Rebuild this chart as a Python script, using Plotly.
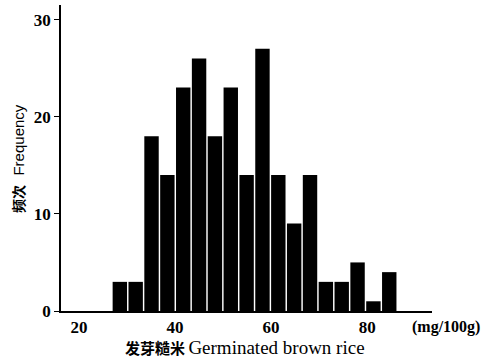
import plotly.graph_objects as go

bin_centers = [28.5, 31.8, 35.1, 38.4, 41.7, 45.0, 48.3, 51.6, 54.9, 58.2,
               61.5, 64.8, 68.1, 71.4, 74.7, 78.0, 81.3, 84.6]
frequency = [3, 3, 18, 14, 23, 26, 18, 23, 14, 27, 14, 9, 14, 3, 3, 5, 1, 4]
x_ticks = [20, 40, 60, 80]
y_ticks = [0, 10, 20, 30]

serif = "Liberation Serif, Times New Roman, serif"
cjk = "Noto Sans CJK SC"

fig = go.Figure(go.Bar(
    x=bin_centers, y=frequency, width=3.0,
    marker=dict(color="black", line=dict(width=0)),
))

fig.update_layout(
    width=486, height=364,
    margin=dict(l=61, r=54, t=5, b=53),
    plot_bgcolor="white", paper_bgcolor="white",
    showlegend=False,
    xaxis=dict(range=[16.25, 93.5], tickvals=x_ticks, ticktext=[str(v) for v in x_ticks],
               showgrid=False, zeroline=False, showline=True, linecolor="black", linewidth=1.5,
               ticks="", tickfont=dict(family=serif, size=17, color="black", weight="bold")),
    yaxis=dict(range=[0, 31.5], tickvals=y_ticks, ticktext=[str(v) for v in y_ticks],
               showgrid=False, zeroline=False, showline=True, linecolor="black", linewidth=1.5,
               ticks="outside", ticklen=5, tickwidth=1.2, tickcolor="black",
               tickfont=dict(family=serif, size=17, color="black", weight="bold")),
    annotations=[
        dict(text="<b>频次</b>&nbsp;&nbsp;&nbsp;<span style='font-family:Liberation Sans;font-size:15px'>Frequency</span>",
             xref="paper", yref="paper", x=-0.116, y=0.50, textangle=-90,
             showarrow=False, font=dict(family=cjk, size=14, color="black"),
             xanchor="center", yanchor="middle"),
        dict(text="<b>发芽糙米</b> <span style='font-family:Liberation Serif;font-size:19px'>Germinated brown rice</span>",
             xref="paper", yref="paper", x=0.496, y=-0.12,
             showarrow=False, font=dict(family=cjk, size=15, color="black"),
             xanchor="center", yanchor="middle"),
        dict(text="(mg/100g)", xref="paper", yref="paper", x=1.038, y=-0.052,
             showarrow=False, font=dict(family=serif, size=16, color="black", weight="bold"),
             xanchor="center", yanchor="middle"),
    ],
)

fig.write_html("out.html")
